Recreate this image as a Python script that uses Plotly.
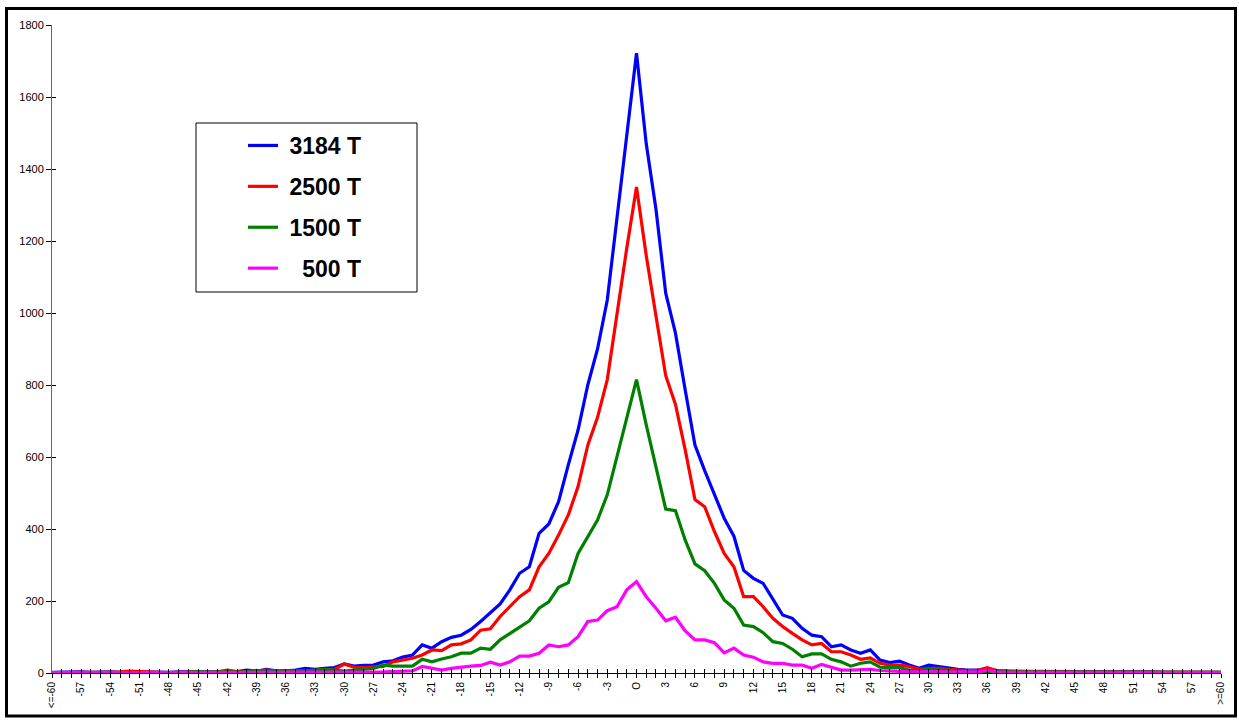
import plotly.graph_objects as go

# ---------------- data ----------------
categories = ["<=-60"] + [("O" if i == 0 else str(i)) for i in range(-59, 60)] + [">=60"]

series_names = ["\u00a03184 T", "\u00a02500 T", "\u00a01500 T", "\u00a0\u00a0\u00a0500 T"]
series_colors = ["#0000FF", "#FF0000", "#008000", "#FF00FF"]

blue_3184 = [
    2, 3, 2, 3, 2, 3, 3, 2, 4, 3, 2, 3, 2, 3, 3, 4, 3, 4, 5, 4,          # -60..-41
    8, 5, 10, 6, 6, 8, 13, 10, 13, 15,                                     # -40..-31
    25, 19, 21, 22, 31, 34, 44, 50, 78, 69,                                # -30..-21
    87, 99, 105, 121, 143, 168, 192, 231, 277, 295,                        # -20..-11
    388, 414, 476, 578, 675, 800, 900, 1036, 1265, 1505,                   # -10..-1
    1722,                                                                  # 0
    1470, 1288, 1055, 944, 786, 633, 562, 495, 430, 380,                   # 1..10
    285, 263, 249, 205, 161, 152, 124, 105, 101, 73,                       # 11..20
    78, 64, 55, 64, 36, 29, 33, 22, 13, 22,                                # 21..30
    18, 13, 10, 8, 8, 12, 7, 5, 5, 4,                                      # 31..40
    4, 3, 3, 4, 5, 3, 3, 3, 3, 3, 5, 3, 3, 2, 3, 2, 2, 2, 2, 2,            # 41..60
]

red_2500 = [
    1, 2, 1, 2, 2, 1, 2, 3, 5, 4, 2, 2, 1, 2, 2, 3, 2, 3, 8, 4,            # -60..-41
    4, 5, 8, 5, 5, 6, 6, 7, 8, 10,                                         # -40..-31
    25, 16, 15, 16, 18, 31, 36, 41, 50, 64,                                # -30..-21
    62, 78, 81, 92, 119, 123, 157, 186, 212, 231,                          # -20..-11
    295, 332, 383, 439, 518, 633, 710, 815, 1005, 1180,                    # -10..-1
    1350,                                                                  # 0
    1160, 992, 826, 746, 620, 482, 462, 393, 332, 295,                     # 1..10
    212, 212, 184, 152, 129, 110, 92, 78, 82, 59,                          # 11..20
    59, 50, 38, 42, 27, 22, 22, 18, 10, 13,                                # 21..30
    13, 10, 8, 7, 7, 15, 6, 5, 5, 4,                                       # 31..40
    4, 3, 3, 3, 3, 2, 3, 2, 2, 3, 3, 2, 2, 2, 2, 2, 2, 2, 2, 2,            # 41..60
]

green_1500 = [
    1, 1, 1, 2, 1, 1, 2, 1, 2, 2, 1, 2, 2, 1, 2, 4, 2, 3, 4, 3,            # -60..-41
    3, 7, 4, 4, 4, 5, 6, 8, 10, 8,                                         # -40..-31
    5, 8, 10, 13, 22, 19, 19, 19, 38, 31,                                  # -30..-21
    39, 45, 55, 55, 69, 66, 92, 110, 129, 145,                             # -20..-11
    180, 198, 238, 251, 332, 377, 425, 495, 600, 705,                      # -10..-1
    815,                                                                   # 0
    689, 573, 455, 451, 369, 303, 284, 249, 203, 180,                      # 1..10
    133, 129, 112, 87, 82, 66, 45, 53, 53, 38,                             # 11..20
    31, 19, 27, 31, 16, 15, 15, 8, 5, 13,                                  # 21..30
    8, 8, 5, 5, 4, 5, 4, 3, 3, 3,                                          # 31..40
    3, 2, 2, 2, 3, 2, 2, 2, 2, 2, 2, 2, 2, 2, 2, 2, 2, 2, 2, 2,            # 41..60
]

magenta_500 = [
    1, 0, 1, 1, 0, 1, 1, 0, 1, 1, 0, 1, 1, 0, 1, 1, 1, 1, 1, 1,            # -60..-41
    1, 1, 1, 1, 1, 1, 2, 3, 1, 2,                                          # -40..-31
    2, 1, 2, 2, 3, 4, 5, 6, 18, 12,                                        # -30..-21
    8, 13, 17, 19, 21, 30, 22, 31, 47, 47,                                 # -20..-11
    55, 78, 73, 78, 101, 143, 147, 173, 184, 231,                          # -10..-1
    254,                                                                   # 0
    212, 180, 145, 155, 117, 92, 92, 84, 56, 69,                           # 1..10
    50, 44, 31, 27, 27, 22, 22, 13, 24, 16,                                # 11..20
    8, 8, 8, 10, 7, 5, 5, 3, 3, 4,                                         # 21..30
    4, 3, 3, 3, 3, 8, 3, 2, 2, 2,                                          # 31..40
    2, 1, 1, 1, 1, 1, 1, 1, 1, 1, 1, 1, 1, 1, 1, 1, 1, 1, 1, 1,            # 41..60
]

all_series = [blue_3184, red_2500, green_1500, magenta_500]
tick_text = [c if i % 3 == 0 else "" for i, c in enumerate(categories)]

# ---------------- layout geometry (pixels) ----------------
W, H = 1239, 720
L, R, T, B = 52, 18, 25, 47
PW, PH = W - L - R, H - T - B


def px(x):
    return (x - L) / PW


def py(y):
    return (H - B - y) / PH


FONT = "Liberation Sans, Arial, sans-serif"

fig = go.Figure()
for i, (name, col, vals) in enumerate(zip(series_names, series_colors, all_series)):
    fig.add_trace(go.Scatter(
        x=categories, y=vals, mode="lines", name=name,
        line=dict(color=col, width=3.2), legendgroup=f"g{i}",
    ))

shapes = [
    # legend frame
    dict(type="rect", xref="paper", yref="paper",
         x0=px(196), x1=px(417), y0=py(292), y1=py(123),
         line=dict(color="black", width=1), fillcolor="white", layer="below"),
    # outer frame
    dict(type="rect", xref="paper", yref="paper",
         x0=px(6.5), x1=px(1235.5), y0=py(716), y1=py(8.5),
         line=dict(color="black", width=3), layer="above"),
]

fig.update_layout(
    width=W, height=H,
    margin=dict(l=L, r=R, t=T, b=B),
    paper_bgcolor="white", plot_bgcolor="white",
    font=dict(family=FONT, color="black"),
    shapes=shapes,
    showlegend=True,
    legend=dict(
        x=px(243), y=py(124), xanchor="left", yanchor="top",
        bgcolor="rgba(0,0,0,0)", borderwidth=0,
        font=dict(family=FONT, size=23, color="black", weight="bold"),
        tracegroupgap=8,
    ),
    xaxis=dict(
        type="category", categoryorder="array", categoryarray=categories,
        range=[0, len(categories) - 1],
        tickmode="array", tickvals=categories, ticktext=tick_text,
        tickangle=-90, tickfont=dict(size=10, family=FONT, color="black"),
        ticks="outside", ticklen=4, tickcolor="black", tickwidth=1,
        showline=True, linecolor="black", linewidth=1,
        showgrid=False, zeroline=False,
    ),
    yaxis=dict(
        range=[0, 1800], tickmode="linear", tick0=0, dtick=200,
        tickfont=dict(size=11, family=FONT, color="black"),
        ticks="outside", ticklen=5, tickcolor="black", tickwidth=1,
        showline=True, linecolor="#666666", linewidth=1,
        showgrid=False, zeroline=False,
    ),
    xaxis2=dict(
        overlaying="x", range=[0, len(categories) - 1], type="linear",
        tickmode="linear", tick0=0, dtick=1, ticks="inside", ticklen=4,
        tickcolor="black", showticklabels=False, showline=False,
        showgrid=False, zeroline=False, side="bottom",
    ),
    yaxis2=dict(
        overlaying="y", range=[0, 1800], tickmode="linear", tick0=0, dtick=200,
        ticks="inside", ticklen=4, tickcolor="black", showticklabels=False,
        showline=False, showgrid=False, zeroline=False, side="left",
    ),
)

# invisible helper trace to activate the overlay axes
fig.add_trace(go.Scatter(x=[None], y=[None], xaxis="x2", yaxis="y2",
                         showlegend=False, hoverinfo="skip"))

fig.write_html("out.html", config={"displayModeBar": False},
               post_script="document.body.style.margin='0';document.body.style.padding='0';")
